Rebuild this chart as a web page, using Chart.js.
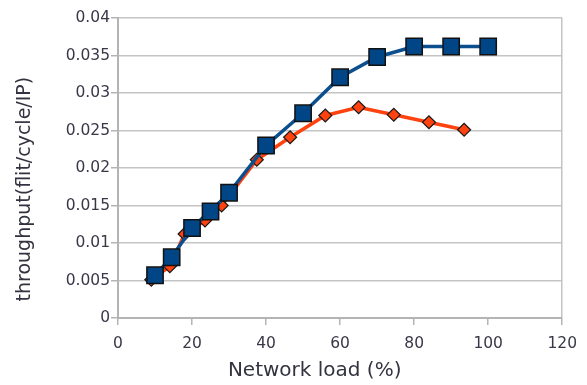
<!DOCTYPE html>
<html>
<head>
<meta charset="utf-8">
<script src="https://cdn.jsdelivr.net/npm/chart.js@4"></script>
<style>
  html, body { margin: 0; padding: 0; background: #fff; }
  #wrap { width: 587px; height: 385px; }
</style>
</head>
<body>
<div id="wrap"><canvas id="myChart" width="587" height="385"></canvas></div>
<script>
// network load (%) and throughput
const blueLoad = [10, 14.5, 20, 25, 30, 40, 50, 60, 70, 80, 90, 100];
const blueThroughput = [0.0057, 0.0081, 0.0120, 0.0142, 0.0167, 0.0230, 0.0273, 0.0321, 0.0348, 0.0362, 0.0362, 0.0362];
const orangeLoad = [9, 14, 18, 23.5, 28, 37.5, 46.5, 56, 65, 74.5, 84, 93.5];
const orangeThroughput = [0.0051, 0.0069, 0.0112, 0.0130, 0.0150, 0.0211, 0.0241, 0.0270, 0.0281, 0.0271, 0.0261, 0.0251];
const xTicks = [0, 20, 40, 60, 80, 100, 120];
const yTicks = [0, 0.005, 0.01, 0.015, 0.02, 0.025, 0.03, 0.035, 0.04];

const toPoints = (xs, ys) => xs.map((x, i) => ({ x: x, y: ys[i] }));
const tickFont = { family: "DejaVu Sans", size: 15.5 };

const ctx = document.getElementById("myChart").getContext("2d");
new Chart(ctx, {
  type: "line",
  data: {
    datasets: [
      // first dataset is painted last, so blue sits on top
      {
        label: "blue",
        data: toPoints(blueLoad, blueThroughput),
        borderColor: "#0b4f8e",
        backgroundColor: "#004586",
        borderWidth: 3.5,
        pointStyle: "rect",
        pointRadius: 11.5,
        pointBorderColor: "#111",
        pointBorderWidth: 1.5,
        tension: 0,
      },
      {
        label: "orange",
        data: toPoints(orangeLoad, orangeThroughput),
        borderColor: "#ff420e",
        backgroundColor: "#ff420e",
        borderWidth: 3.5,
        pointStyle: "rectRot",
        pointRadius: 6.5,
        pointBorderColor: "#1a1a1a",
        pointBorderWidth: 1.2,
        tension: 0,
      },
    ],
  },
  options: {
    responsive: false,
    animation: false,
    clip: false,
    layout: { padding: { top: 18, right: 23, left: 0, bottom: 0 } },
    plugins: { legend: { display: false }, tooltip: { enabled: false } },
    scales: {
      x: {
        type: "linear",
        min: 0,
        max: 120,
        afterBuildTicks: (scale) => { scale.ticks = xTicks.map((v) => ({ value: v })); },
        afterFit: (scale) => { scale.height = 67; },
        grid: {
          color: (c) => (c.tick && c.tick.value === 120 ? "#c4c4c4" : "rgba(0,0,0,0)"),
          lineWidth: 1.5,
          tickColor: "#b4b4b4",
          tickLength: 7,
        },
        border: { color: "#b4b4b4", width: 2 },
        ticks: {
          color: "#383848",
          font: tickFont,
          padding: 10,
          maxRotation: 0,
        },
        title: {
          display: true,
          // trailing spaces shift the label a little left of centre, as in the original
          text: "Network load (%)\u00a0\u00a0\u00a0\u00a0\u00a0\u00a0\u00a0\u00a0",
          color: "#333340",
          font: { family: "DejaVu Sans", size: 20 },
          padding: { top: 0, bottom: 2 },
        },
      },
      y: {
        min: 0,
        max: 0.04,
        afterBuildTicks: (scale) => { scale.ticks = yTicks.map((v) => ({ value: v })); },
        afterFit: (scale) => { scale.width = 118; },
        grid: {
          color: "#c4c4c4",
          lineWidth: 1.5,
          tickColor: "#b4b4b4",
          tickLength: 7,
        },
        border: { color: "#b4b4b4", width: 2 },
        ticks: {
          color: "#383848",
          font: tickFont,
          padding: 1,
          callback: (v) => String(Number(v.toFixed(3))),
        },
        title: {
          display: true,
          // trailing spaces nudge the label down the axis, as in the original
          text: "throughput(flit/cycle/IP)\u00a0\u00a0\u00a0\u00a0\u00a0\u00a0\u00a0",
          color: "#333340",
          font: { family: "DejaVu Sans", size: 19 },
          padding: { top: 13.5, bottom: 0 },
        },
      },
    },
  },
});
</script>
</body>
</html>
